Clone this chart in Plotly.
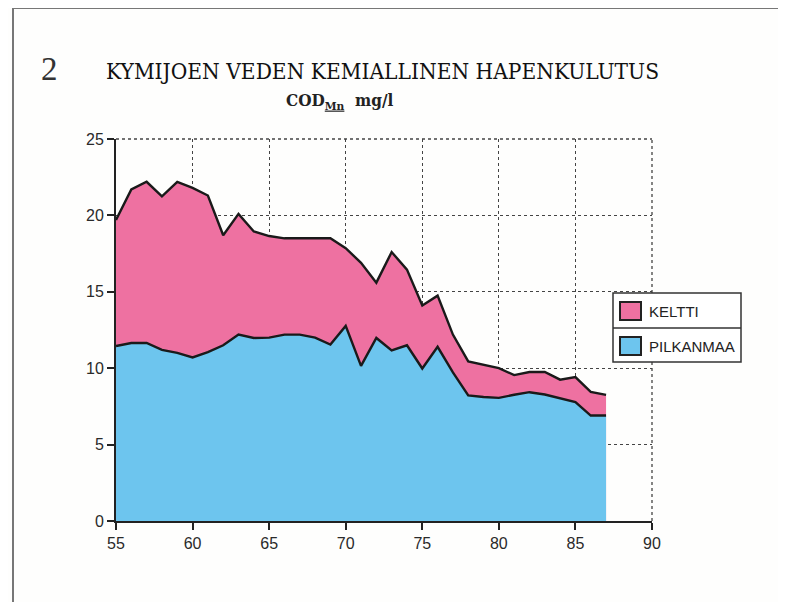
import plotly.graph_objects as go

years = list(range(55, 88))
keltti = [19.7, 21.7, 22.2, 21.25, 22.2, 21.8, 21.3, 18.7, 20.1, 18.95, 18.65,
          18.5, 18.5, 18.5, 18.5, 17.85, 16.9, 15.6, 17.6, 16.45, 14.1, 14.75,
          12.2, 10.45, 10.2, 10.0, 9.55, 9.75, 9.75, 9.25, 9.42, 8.45, 8.25]
pilkanmaa = [11.45, 11.65, 11.65, 11.2, 11.0, 10.7, 11.05, 11.5, 12.2, 11.98,
             12.0, 12.2, 12.2, 12.0, 11.55, 12.77, 10.15, 11.98, 11.16, 11.5,
             9.98, 11.4, 9.72, 8.22, 8.12, 8.06, 8.26, 8.43, 8.28, 8.02, 7.78,
             6.9, 6.9]
series_names = ["KELTTI", "PILKANMAA"]
x_ticks = [55, 60, 65, 70, 75, 80, 85, 90]
y_ticks = [0, 5, 10, 15, 20, 25]

PINK = "#EE71A1"
BLUE = "#6DC5EE"

OFF = 8  # page body margin of the html
WIN_W, WIN_H = 786, 610
W, H = WIN_W - 2 * OFF, WIN_H - 2 * OFF
# plot area in window pixels: x 116..652, y 139..521
L, T = 116 - OFF, 139 - OFF
R = (OFF + W) - 652
B = (OFF + H) - 521
PW, PH = W - L - R, H - T - B


def px(xw):
    return (xw - OFF - L) / PW


def py(yw):
    return (H - B - (yw - OFF)) / PH


fig = go.Figure()
fig.add_trace(go.Scatter(x=years, y=keltti, name=series_names[0], mode="lines",
                         fill="tozeroy", fillcolor=PINK,
                         line=dict(color="#1a1a1a", width=2.4), showlegend=False))
fig.add_trace(go.Scatter(x=years, y=pilkanmaa, name=series_names[1], mode="lines",
                         fill="tozeroy", fillcolor=BLUE,
                         line=dict(color="#1a1a1a", width=2.4), showlegend=False))

GRID = "#444"
axis_common = dict(showgrid=True, gridcolor=GRID, griddash="dot", gridwidth=1.3,
                   showline=True, linecolor="#222", linewidth=2,
                   ticks="outside", ticklen=7, tickwidth=1.5, tickcolor="#222",
                   zeroline=False,
                   tickfont=dict(family="Liberation Sans, Arial", size=16, color="#2a2a2a"))

fig.update_xaxes(range=[55, 90], tickvals=x_ticks, ticktext=[str(v) for v in x_ticks],
                 **axis_common)
fig.update_yaxes(range=[0, 25], tickvals=y_ticks, ticktext=[str(v) for v in y_ticks],
                 **axis_common)

shapes = []
# dotted top and right edges (gridlines at 25 and 90)
shapes.append(dict(type="line", xref="paper", yref="paper", x0=0, x1=1, y0=1, y1=1,
                   line=dict(color=GRID, width=1.3, dash="dot"), layer="below"))
shapes.append(dict(type="line", xref="paper", yref="paper", x0=1, x1=1, y0=0, y1=1,
                   line=dict(color=GRID, width=1.3, dash="dot"), layer="below"))
# page frame
shapes.append(dict(type="line", xref="paper", yref="paper", x0=px(13), x1=px(800),
                   y0=py(8), y1=py(8), line=dict(color="#777", width=2)))
shapes.append(dict(type="line", xref="paper", yref="paper", x0=px(13), x1=px(13),
                   y0=py(8), y1=py(620), line=dict(color="#777", width=2)))
# legend box
shapes.append(dict(type="rect", xref="paper", yref="paper", x0=px(613), x1=px(741),
                   y0=py(362), y1=py(293), line=dict(color="#333", width=1.5),
                   fillcolor="white"))
shapes.append(dict(type="line", xref="paper", yref="paper", x0=px(613), x1=px(741),
                   y0=py(328), y1=py(328), line=dict(color="#333", width=1.5)))
legend_rows = [(311, PINK), (346, BLUE)]
annotations = []
for (yc, col), name in zip(legend_rows, series_names):
    shapes.append(dict(type="rect", xref="paper", yref="paper", x0=px(620), x1=px(641),
                       y0=py(yc + 9), y1=py(yc - 9), line=dict(color="#222", width=2),
                       fillcolor=col))
    annotations.append(dict(xref="paper", yref="paper", x=px(647), y=py(yc),
                            text=name, showarrow=False, xanchor="left", yanchor="middle",
                            font=dict(family="Liberation Sans, Arial", size=15,
                                      color="#222")))

annotations.append(dict(xref="paper", yref="paper", x=px(39), y=py(69), text="2",
                        showarrow=False, xanchor="left", yanchor="middle",
                        font=dict(family="Liberation Serif, serif", size=33, color="#333")))
annotations.append(dict(xref="paper", yref="paper", x=px(104), y=py(71),
                        text="KYMIJOEN VEDEN KEMIALLINEN HAPENKULUTUS",
                        showarrow=False, xanchor="left", yanchor="middle",
                        font=dict(family="DejaVu Serif Condensed, DejaVu Serif, serif",
                                  size=22.5, color="#111")))
annotations.append(dict(xref="paper", yref="paper", x=px(284), y=py(101),
                        text="<b>COD<sub><u>Mn</u></sub>  mg/l</b>",
                        showarrow=False, xanchor="left", yanchor="middle",
                        font=dict(family="DejaVu Serif Condensed, DejaVu Serif, serif",
                                  size=17, color="#222")))

fig.update_layout(width=W, height=H, margin=dict(l=L, r=R, t=T, b=B),
                  paper_bgcolor="#fefefd", plot_bgcolor="#fefefd",
                  shapes=shapes, annotations=annotations, showlegend=False)

fig.write_html("out.html", config={"displayModeBar": False})
